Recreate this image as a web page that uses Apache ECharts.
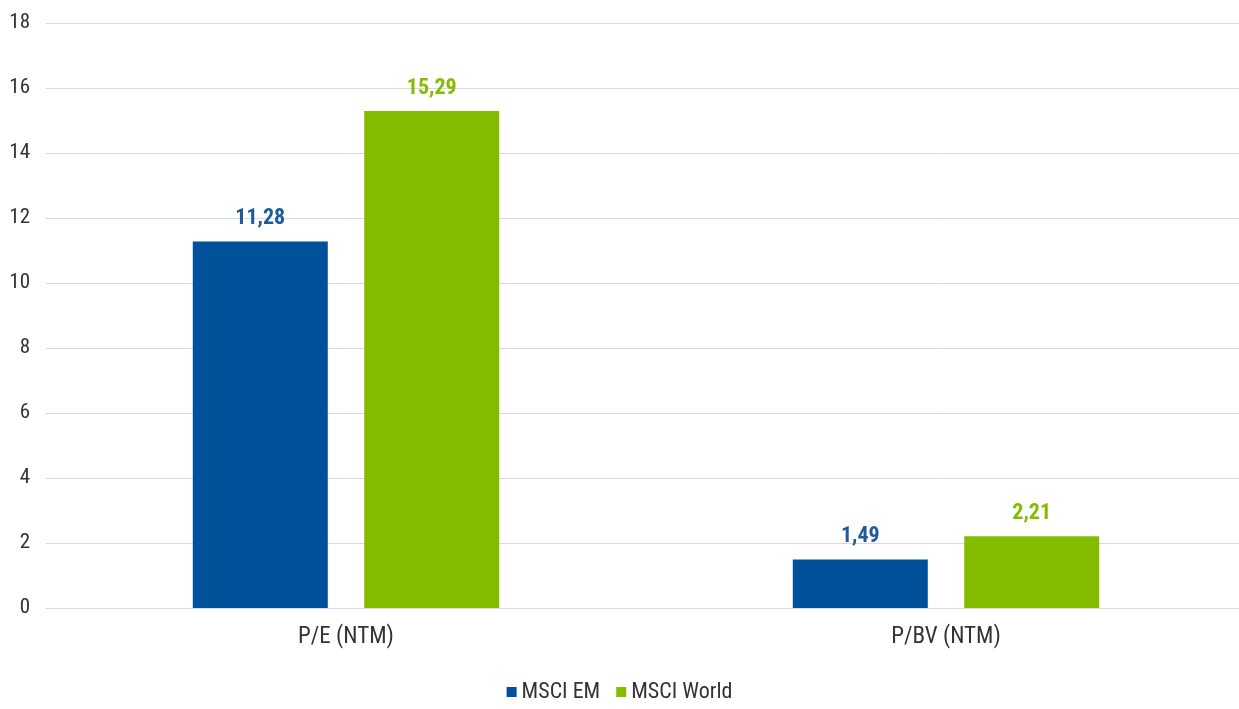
<!DOCTYPE html>
<html><head><meta charset="utf-8">
<script src="https://cdn.jsdelivr.net/npm/echarts@6/dist/echarts.min.js"></script>
<style>html,body{margin:0;padding:0;background:#fff}#c{width:1239px;height:709px}</style>
</head><body><div id="c"></div>
<script>
const categories = ['P/E (NTM)', 'P/BV (NTM)'];
const msciEM = [11.28, 1.49];
const msciWorld = [15.29, 2.21];
const seriesNames = ['MSCI EM', 'MSCI World'];
const FONT = '"Liberation Sans Narrow", "Arial Narrow", "Roboto Condensed", "Liberation Sans", sans-serif';
const fmt = p => p.value.toFixed(2).replace('.', ',');
const chart = echarts.init(document.getElementById('c'));
chart.setOption({
  animation: false,
  grid: { left: 46, width: 1200, top: 23, bottom: 101, outerBoundsMode: 'none', containLabel: false },
  legend: {
    bottom: 1, left: 'center', itemWidth: 10, itemHeight: 10, itemGap: 16,
    icon: 'rect',
    textStyle: { fontFamily: FONT, fontSize: 22, color: '#333' },
    data: seriesNames
  },
  xAxis: {
    type: 'category', data: categories,
    axisLine: { lineStyle: { color: '#d9d9d9' } },
    axisTick: { show: false },
    axisLabel: { fontFamily: FONT, fontSize: 23, color: '#333', margin: 18 }
  },
  yAxis: {
    type: 'value', min: 0, max: 18, interval: 2,
    axisLine: { show: false }, axisTick: { show: false },
    splitLine: { lineStyle: { color: '#d9d9d9', width: 1 } },
    axisLabel: { fontFamily: FONT, fontSize: 21, color: '#333', margin: 16, align: 'right' }
  },
  series: [
    { name: seriesNames[0], type: 'bar', data: msciEM, barWidth: 135, barGap: '27%',
      itemStyle: { color: '#00519A' },
      label: { show: true, position: 'top', distance: 12, formatter: fmt, fontFamily: FONT, fontWeight: 'bold', fontSize: 22, color: '#1F5A9A' } },
    { name: seriesNames[1], type: 'bar', data: msciWorld, barWidth: 135,
      itemStyle: { color: '#84BC00' },
      label: { show: true, position: 'top', distance: 12, formatter: fmt, fontFamily: FONT, fontWeight: 'bold', fontSize: 22, color: '#84BC00' } }
  ]
});
</script></body></html>
